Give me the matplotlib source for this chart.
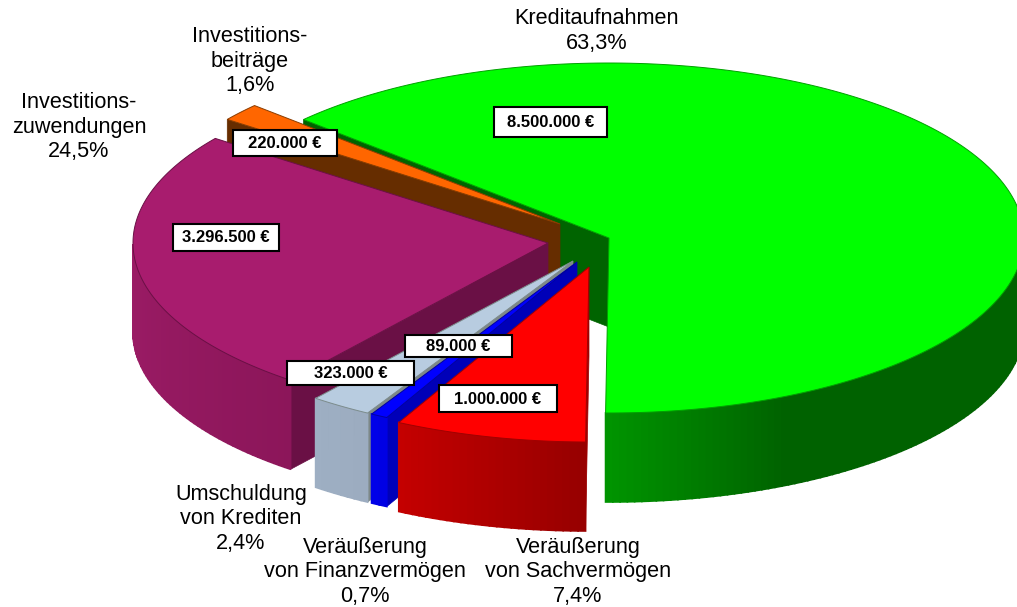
import numpy as np
import matplotlib
matplotlib.use("Agg")
import matplotlib.pyplot as plt
from matplotlib.patches import Rectangle

plt.rcParams['font.family'] = ['Liberation Sans', 'DejaVu Sans']

# Data
categories = ["Kreditaufnahmen", "Veräußerung\nvon Sachvermögen", "Veräußerung\nvon Finanzvermögen",
              "Umschuldung\nvon Krediten", "Investitions-\nzuwendungen", "Investitions-\nbeiträge"]
amounts = [8500000, 1000000, 89000, 323000, 3296500, 220000]
amount_labels = ["8.500.000 €", "1.000.000 €", "89.000 €", "323.000 €", "3.296.500 €", "220.000 €"]
percent_labels = ["63,3%", "7,4%", "0,7%", "2,4%", "24,5%", "1,6%"]

# Layout in pixels, same order as the data
start_angle = 137.4
depth = 89
radius_x = 415
radius_y = 175
centers = [(609, 238), (589, 267), (577, 262), (573, 261), (548, 243), (560, 224)]
draw_order = [0, 5, 4, 3, 2, 1]

top_colors = ["#00ff00", "#ff0000", "#0000ff", "#b8cce0", "#a81c6e", "#ff6600"]
edge_colors = ["#00a000", "#a00000", "#0000a0", "#7c8c8c", "#6a1045", "#8a3c00"]
side_colors = ["#006400", "#a00000", "#0000b8", "#7d8888", "#6a1045", "#662d00"]
# outer wall shading: colour at shade_from blends to colour at shade_to
wall_left = [(0, 148, 0), (198, 0, 0), (0, 0, 235), (158, 175, 195), (156, 28, 102), (102, 45, 0)]
wall_right = [(0, 98, 0), (150, 0, 0), (0, 0, 225), (156, 172, 192), (140, 22, 90), (102, 45, 0)]
shade_from = [-90, -118, -120, -129, -180, -223]
shade_to = [-65, -90, -117, -120, -128, -217]

box_rects = [(494, 107, 113, 30), (439, 385, 118, 27), (405, 335, 107, 22),
             (287, 361, 127, 24), (173, 224, 106, 27), (233, 130, 104, 26)]
label_pos = [(597, 31), (578, 572), (365, 572), (241, 519), (79, 127), (250, 61)]


def rim(ang, center, dz=0):
    cx, cy = center
    a = np.radians(ang)
    return cx + radius_x * np.cos(a), cy - radius_y * np.sin(a) + dz


def draw_slice(ax, i, a1, a2):
    cx, cy = centers[i]
    # flat side walls
    for ang, normal in ((a1, a1 + 90), (a2, a2 - 90)):
        if np.sin(np.radians(normal)) < 0:
            x, y = rim(ang, centers[i])
            ax.fill([cx, x, x, cx], [cy, y, y + depth, cy + depth],
                    color=side_colors[i], lw=0.5)
    # outer wall, only the part that faces us
    angs = np.linspace(a2, a1, max(int(a1 - a2), 2) + 1)
    for p, q in zip(angs[:-1], angs[1:]):
        m = (p + q) / 2
        if np.sin(np.radians(m)) >= 0:
            continue
        t = np.clip((m - shade_from[i]) / (shade_to[i] - shade_from[i]), 0, 1)
        c = np.array(wall_left[i]) * (1 - t) + np.array(wall_right[i]) * t
        x1, y1 = rim(p, centers[i])
        x2, y2 = rim(q, centers[i])
        ax.fill([x1, x2, x2, x1], [y1, y2, y2 + depth, y1 + depth],
                color=c / 255, lw=1.2)
    # top face
    angs = np.linspace(a1, a2, 200)
    xs, ys = rim(angs, centers[i])
    ax.fill(np.r_[cx, xs], np.r_[cy, ys], facecolor=top_colors[i],
            edgecolor=edge_colors[i], lw=0.7)


fig = plt.figure(figsize=(10.17, 6.07), dpi=100)
ax = fig.add_axes([0, 0, 1, 1])
ax.set_xlim(0, 1017)
ax.set_ylim(607, 0)
ax.axis('off')

fractions = np.array(amounts) / np.sum(amounts)
ends = start_angle - np.cumsum(fractions) * 360
starts = np.r_[start_angle, ends[:-1]]

for i in draw_order:
    draw_slice(ax, i, starts[i], ends[i])

# value boxes
for (x, y, w, h), s in zip(box_rects, amount_labels):
    ax.add_patch(Rectangle((x, y), w, h, facecolor='white', edgecolor='black', lw=1.5, zorder=5))
    ax.text(x + w / 2, y + h / 2 + 0.5, s, ha='center', va='center', fontsize=12,
            fontweight='bold', zorder=6)

# category labels
for (x, y), name, pct in zip(label_pos, categories, percent_labels):
    ax.text(x, y, name + "\n" + pct, ha='center', va='center', fontsize=15.6,
            linespacing=1.24, color='black')

fig.savefig("out.png", dpi=100)
